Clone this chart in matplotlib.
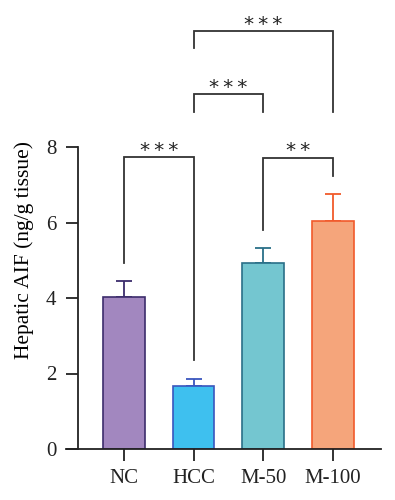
import matplotlib
matplotlib.use("Agg")
import matplotlib.pyplot as plt

categories = ["NC", "HCC", "M-50", "M-100"]
means = [4.02, 1.67, 4.93, 6.05]
errors = [0.42, 0.18, 0.40, 0.70]
fill_colors = ["#A287BF", "#3EC0EF", "#74C6D0", "#F5A57B"]
edge_colors = ["#3C2C6C", "#3A56BE", "#2A6F88", "#F15A2B"]
yticks = [0, 2, 4, 6, 8]
# comparisons: (i, j, bracket height, left leg bottom, right leg bottom, label)
comparisons = [
    (0, 1, 7.73, 4.93, 2.36, "*\u2009*\u2009*"),
    (2, 3, 7.72, 5.80, 7.24, "*\u2009*"),
    (1, 2, 9.40, 8.93, 8.93, "*\u2009*\u2009*"),
    (1, 3, 11.07, 10.63, 8.93, "*\u2009*\u2009*"),
]

plt.rcParams['font.family'] = ['Liberation Serif', 'DejaVu Serif']
fig = plt.figure(figsize=(3.95, 5.0), dpi=100)
ax = fig.add_axes([66/395, 1-449/500, (381-66)/395, (449-147)/500])

x = list(range(len(categories)))
for i in x:
    ax.bar(i, means[i], width=0.6, color=fill_colors[i], edgecolor=edge_colors[i],
           linewidth=1.2, zorder=2)
    ax.errorbar(i, means[i], yerr=[[0], [errors[i]]], fmt='none', ecolor=edge_colors[i],
                elinewidth=1.3, capsize=5.5, capthick=1.3, zorder=1)

for i, j, h, lb, rb, lab in comparisons:
    ax.plot([i, i, j, j], [lb, h, h, rb], color="#333333", lw=1.3, clip_on=False,
            solid_joinstyle='miter')
    ax.text((i + j) / 2, h + 0.04, lab, ha='center', va='baseline', fontsize=14.5,
            family='DejaVu Sans', color='#222222', clip_on=False)

ax.set_xlim(-0.83, 3.69)
ax.set_ylim(0, 8)
ax.spines['left'].set_position(('data', -0.66))
ax.set_yticks(yticks)
ax.set_xticks(x)
ax.set_xticklabels(categories)
ax.tick_params(axis='both', labelsize=15, width=1.3, length=8.5, direction='out',
               colors='#222222')
ax.tick_params(axis='y', pad=7)
ax.tick_params(axis='x', pad=6)
ax.spines['top'].set_visible(False)
ax.spines['right'].set_visible(False)
for s in ['left', 'bottom']:
    ax.spines[s].set_linewidth(1.3)
    ax.spines[s].set_color('#222222')
ax.set_ylabel("Hepatic AIF (ng/g tissue)", fontsize=15.5)
ax.yaxis.set_label_coords(34/395, 0.5, transform=fig.transFigure)

fig.savefig("out.png", dpi=100)
